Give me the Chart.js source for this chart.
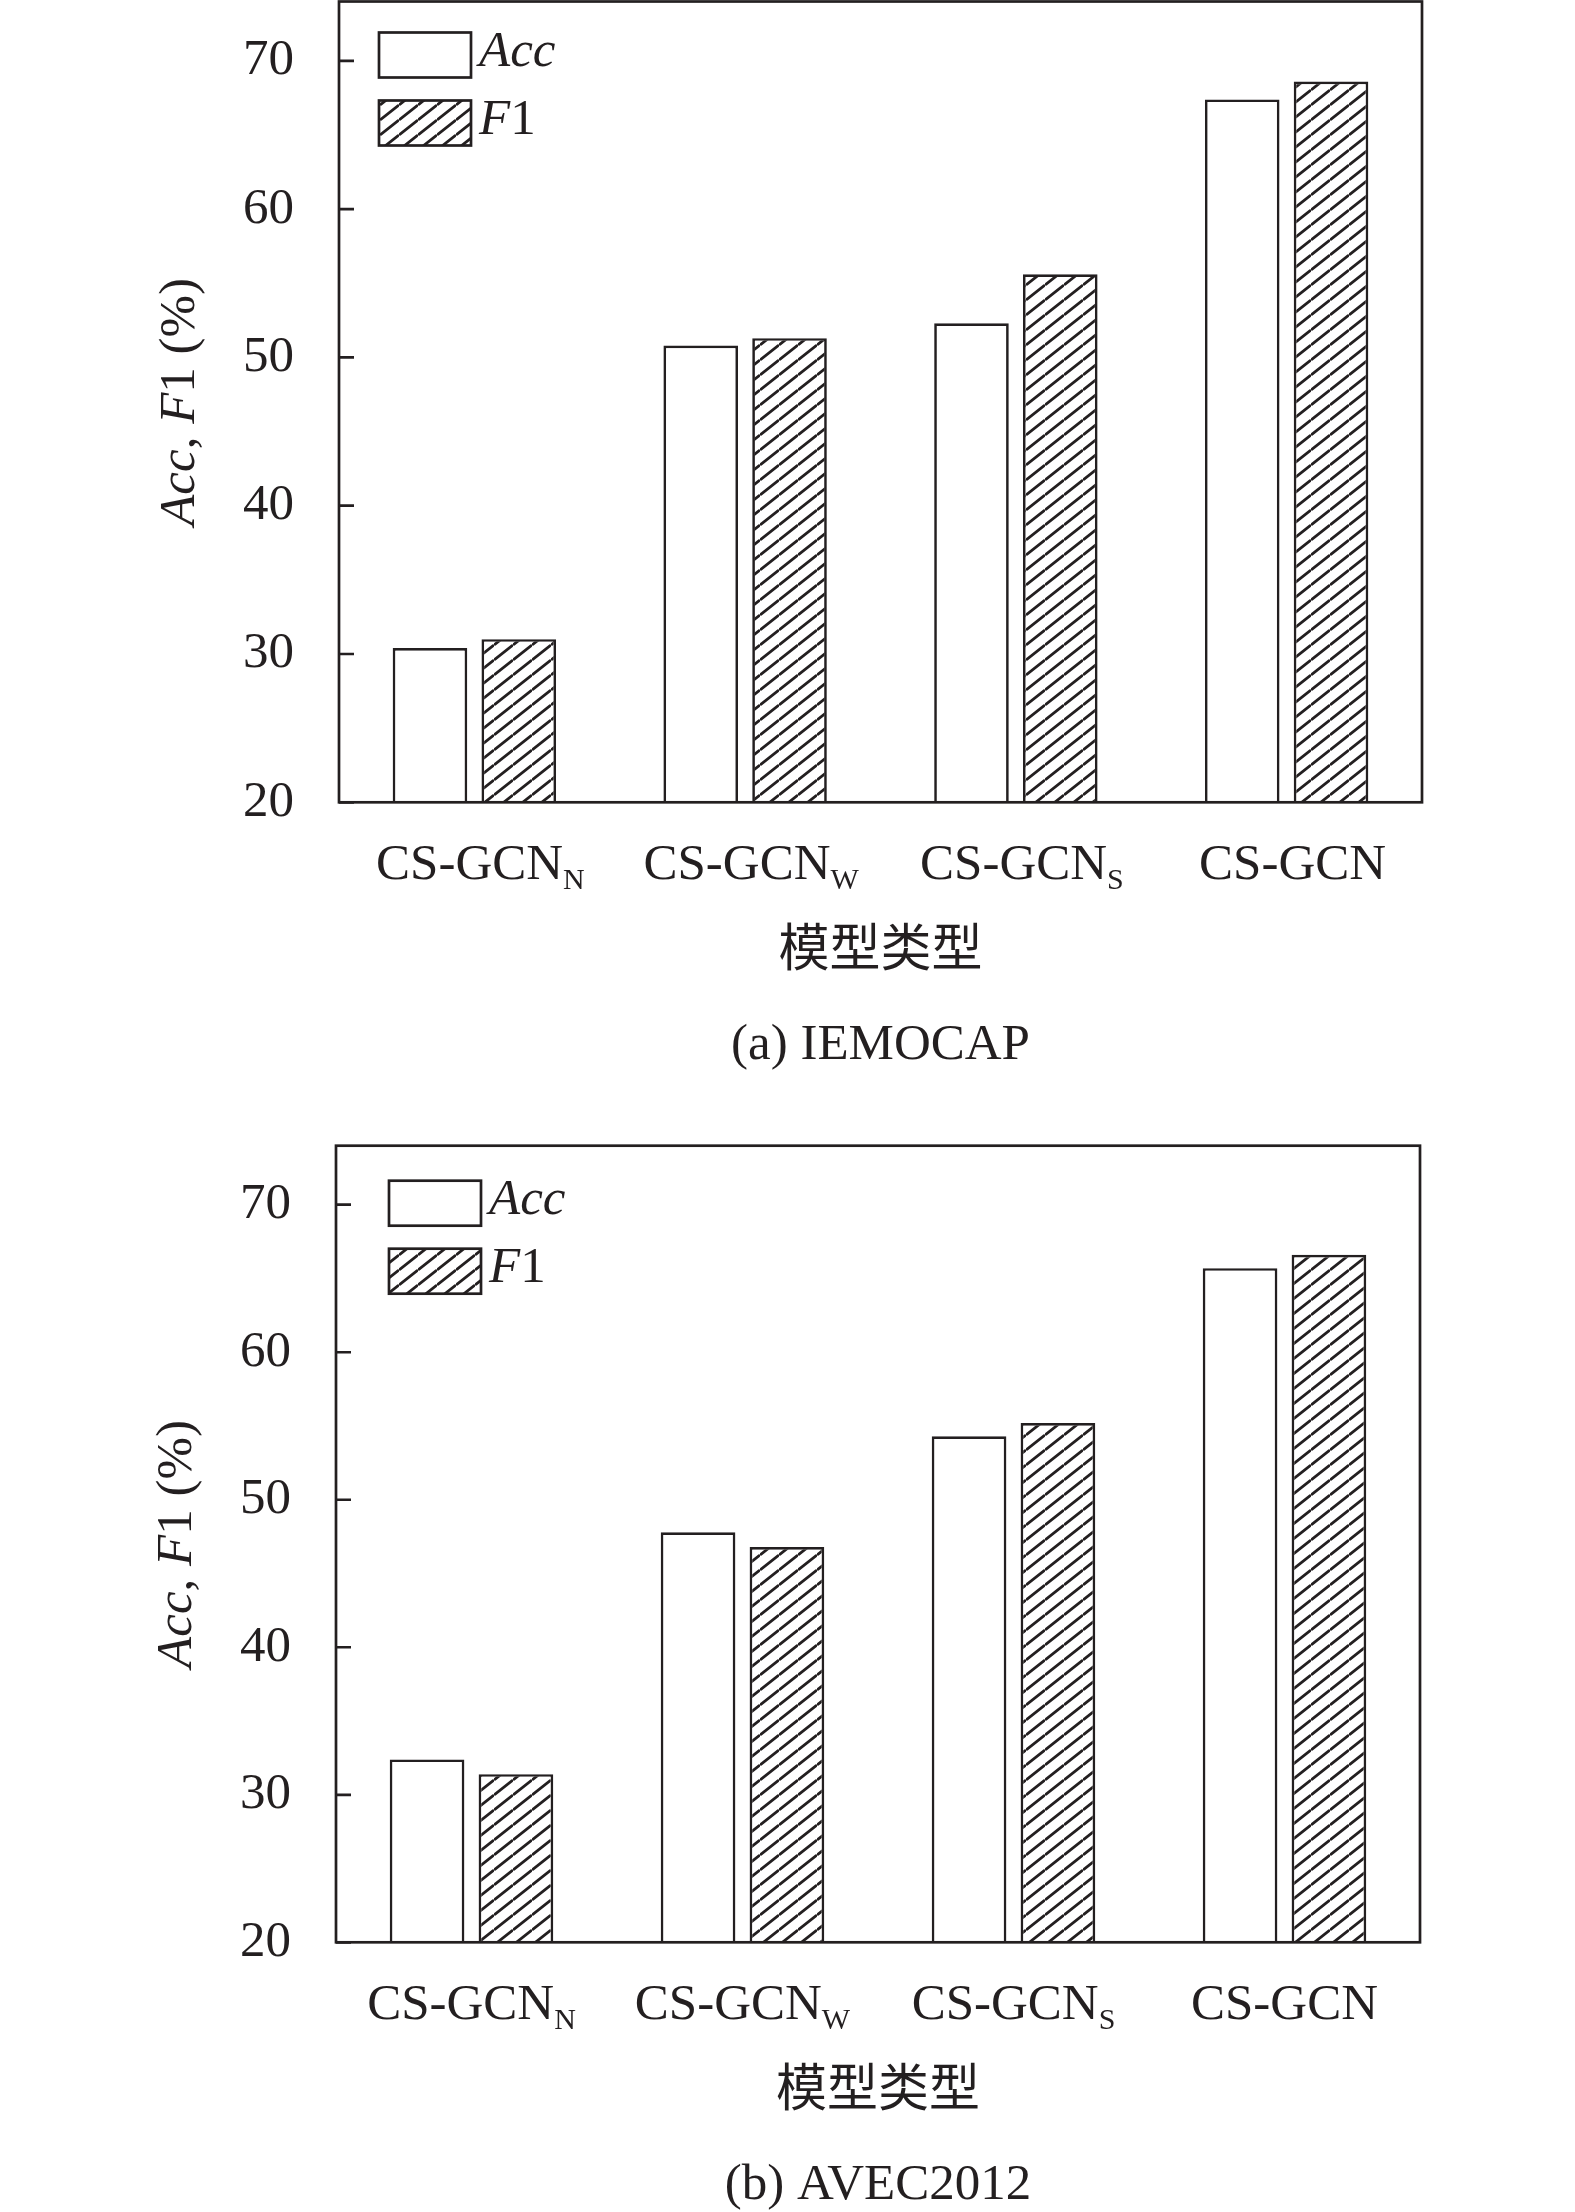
<!DOCTYPE html>
<html>
<head>
<meta charset="utf-8">
<title>CS-GCN variants</title>
<script src="https://cdn.jsdelivr.net/npm/chart.js@4.4.0/dist/chart.umd.min.js"></script>
<style>
  body { margin: 0; background: #fff; }
  canvas { display: block; }
</style>
</head>
<body>
<canvas id="chartA" width="1575" height="1105"></canvas>
<canvas id="chartB" width="1575" height="1107"></canvas>
<script>
// values
var categories = ['CS-GCN_N', 'CS-GCN_W', 'CS-GCN_S', 'CS-GCN'];
var seriesNames = ['Acc', 'F1'];
var iemocapAcc = [30.4, 50.8, 52.3, 67.4];
var iemocapF1 = [31.0, 51.3, 55.6, 68.6];
var avecAcc = [32.4, 47.8, 54.3, 65.7];
var avecF1 = [31.4, 46.8, 55.2, 66.6];
var yTicks = [20, 30, 40, 50, 60, 70];
var yTitle = 'Acc, F1 (%)';
var xTitle = '模型类型';

var INK = '#231f20';
var FONT = "'Liberation Serif', 'Times New Roman', 'Noto Sans CJK SC', serif";
var SIZE = 51;

// "/" hatching, a bit flatter than 45 degrees like the print
function hatch() {
    var w = 19, h = 15;
    var c = document.createElement('canvas');
    c.width = w; c.height = h;
    var g = c.getContext('2d');
    g.fillStyle = '#fff';
    g.fillRect(0, 0, w, h);
    g.strokeStyle = INK;
    g.lineWidth = 2.8;
    g.beginPath();
    [-1, 0, 1].forEach(function (k) {
        g.moveTo(0, h + k * h);
        g.lineTo(w, k * h);
    });
    g.stroke();
    return g.createPattern(c, 'repeat');
}
var hatchFill = hatch();

// letters italic, everything else upright
function runs(text) {
    return (text.match(/[A-Za-z]+|[^A-Za-z]+/g) || []).map(function (t) {
        return [t, /[A-Za-z]/.test(t)];
    });
}

function drawRuns(ctx, parts, x, y, align) {
    var w = 0;
    parts.forEach(function (p) {
        ctx.font = (p[1] ? 'italic ' : '') + SIZE + 'px ' + FONT;
        w += ctx.measureText(p[0]).width;
    });
    var cx = align === 'center' ? x - w / 2 : x;
    parts.forEach(function (p) {
        ctx.font = (p[1] ? 'italic ' : '') + SIZE + 'px ' + FONT;
        ctx.textAlign = 'left';
        ctx.fillText(p[0], cx, y);
        cx += ctx.measureText(p[0]).width;
    });
}

var decor = {
    id: 'decor',
    afterDraw: function (chart, args, o) {
        var ctx = chart.ctx;
        var a = chart.chartArea;
        var xs = chart.scales.x, ys = chart.scales.y;
        ctx.save();
        ctx.strokeStyle = INK;
        ctx.fillStyle = INK;
        ctx.lineWidth = 2.7;

        // frame
        ctx.strokeRect(a.left, a.top, a.right - a.left, a.bottom - a.top);

        // inward y ticks
        ctx.beginPath();
        ys.ticks.forEach(function (t) {
            var py = ys.getPixelForValue(t.value);
            ctx.moveTo(a.left, py);
            ctx.lineTo(a.left + 15, py);
        });
        ctx.stroke();

        // category labels with subscript
        ctx.textBaseline = 'alphabetic';
        chart.data.labels.forEach(function (lab, i) {
            var bits = lab.split('_');
            var main = bits[0], sub = bits[1] || '';
            ctx.font = SIZE + 'px ' + FONT;
            var w1 = ctx.measureText(main).width;
            ctx.font = '30px ' + FONT;
            var w2 = sub ? ctx.measureText(sub).width : 0;
            var cx = xs.getPixelForValue(i) + o.labelShift;
            var x0 = cx - (w1 + w2) / 2;
            var base = a.bottom + 77;
            ctx.textAlign = 'left';
            ctx.font = SIZE + 'px ' + FONT;
            ctx.fillText(main, x0, base);
            if (sub) {
                ctx.font = '30px ' + FONT;
                ctx.fillText(sub, x0 + w1, base + 10);
            }
        });

        // axis titles and caption
        var mid = (a.left + a.right) / 2;
        ctx.textBaseline = 'middle';
        ctx.textAlign = 'center';
        ctx.font = SIZE + 'px ' + FONT;
        ctx.fillText(xTitle, mid, a.bottom + 150);
        ctx.fillText(o.caption, mid, a.bottom + 243);

        ctx.save();
        ctx.translate(a.left - 158, (a.top + a.bottom) / 2);
        ctx.rotate(-Math.PI / 2);
        drawRuns(ctx, runs(yTitle), 0, 0, 'center');
        ctx.restore();

        // legend
        chart.data.datasets.forEach(function (ds, i) {
            var bx = a.left + o.legendX;
            var by = a.top + o.legendY + i * 68;
            ctx.fillStyle = ds.backgroundColor;
            ctx.fillRect(bx, by, 92, 45);
            ctx.lineWidth = 2.7;
            ctx.strokeRect(bx, by, 92, 45);
            ctx.fillStyle = INK;
            ctx.textBaseline = 'middle';
            drawRuns(ctx, runs(ds.label), bx + 100, by + 20, 'left');
        });
        ctx.restore();
    }
};

function makeChart(id, acc, f1, box) {
    var canvas = document.getElementById(id);
    return new Chart(canvas.getContext('2d'), {
        type: 'bar',
        data: {
            labels: categories,
            datasets: [{
                label: seriesNames[0],
                data: acc,
                backgroundColor: '#ffffff',
                borderColor: INK,
                borderWidth: 2.7
            }, {
                label: seriesNames[1],
                data: f1,
                backgroundColor: hatchFill,
                borderColor: INK,
                borderWidth: 2.7
            }]
        },
        options: {
            responsive: false,
            animation: false,
            categoryPercentage: 0.656,
            barPercentage: 0.84,
            layout: {
                padding: { left: 0, right: canvas.width - box.right, top: box.top, bottom: 0 }
            },
            plugins: {
                legend: { display: false },
                tooltip: { enabled: false },
                decor: { caption: box.caption, legendX: box.legendX, legendY: box.legendY, labelShift: box.labelShift }
            },
            scales: {
                x: {
                    grid: { display: false, drawTicks: false },
                    border: { display: false },
                    ticks: { display: false },
                    afterFit: function (s) {
                        s.height = canvas.height - box.bottom;
                        s.paddingLeft = 0; s.paddingRight = 0;
                    }
                },
                y: {
                    min: 20,
                    max: 74,
                    grid: { display: false, drawTicks: false },
                    border: { display: false },
                    afterBuildTicks: function (s) {
                        s.ticks = yTicks.map(function (v) { return { value: v }; });
                    },
                    ticks: {
                        color: INK,
                        padding: 45,
                        font: { family: FONT, size: SIZE }
                    },
                    afterFit: function (s) {
                        s.width = box.left;
                        s.paddingTop = 0; s.paddingBottom = 0;
                    }
                }
            }
        },
        plugins: [decor]
    });
}

makeChart('chartA', iemocapAcc, iemocapF1,
    { left: 339, right: 1422, top: 1.5, bottom: 802.3, legendX: 40, legendY: 31, labelShift: 6, caption: '(a) IEMOCAP' });
makeChart('chartB', avecAcc, avecF1,
    { left: 336, right: 1420, top: 40.7, bottom: 837.3, legendX: 53, legendY: 35, labelShift: 0, caption: '(b) AVEC2012' });
</script>
</body>
</html>
